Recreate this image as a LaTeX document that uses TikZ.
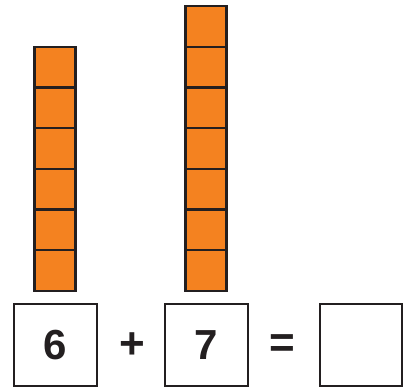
\documentclass[tikz,border=0pt]{standalone}
\usepackage{fontspec}
\setmainfont{Liberation Sans}
\definecolor{cube}{RGB}{244,130,32}
\definecolor{ink}{RGB}{35,31,32}
\begin{document}
\begin{tikzpicture}[x=1pt,y=-1pt,
  cubebox/.style={draw=ink,line width=2.2pt,fill=cube},
  ansbox/.style={draw=ink,line width=2pt,fill=white},
  digit/.style={font=\fontsize{42}{42}\selectfont\bfseries,text=ink,inner sep=0pt},
  sym/.style={font=\fontsize{44}{44}\selectfont\bfseries,text=ink,inner sep=0pt}]
\useasboundingbox (0,0) rectangle (407,387);
% left column: 6 cubes
\foreach \i in {0,...,5}{
  \draw[cubebox] (34.5,{291-40.7*(\i+1)}) rectangle (75.5,{291-40.7*\i});
}
% right column: 7 cubes
\foreach \i in {0,...,6}{
  \draw[cubebox] (185.5,{291-40.7*(\i+1)}) rectangle (226.5,{291-40.7*\i});
}
% boxes
\draw[ansbox] (14,304.5) rectangle (96.5,385.5);
\draw[ansbox] (165,304.5) rectangle (247.5,385.5);
\draw[ansbox] (319.5,304.5) rectangle (401.5,385.5);
\node[digit] (six) at (55.2,345.5) {6};
\node[digit] (seven) at (206.2,345.5) {7};
\node[sym] (plus) at (132,346) {+};
\node[sym] (eq) at (282,346) {=};
\end{tikzpicture}
\end{document}
